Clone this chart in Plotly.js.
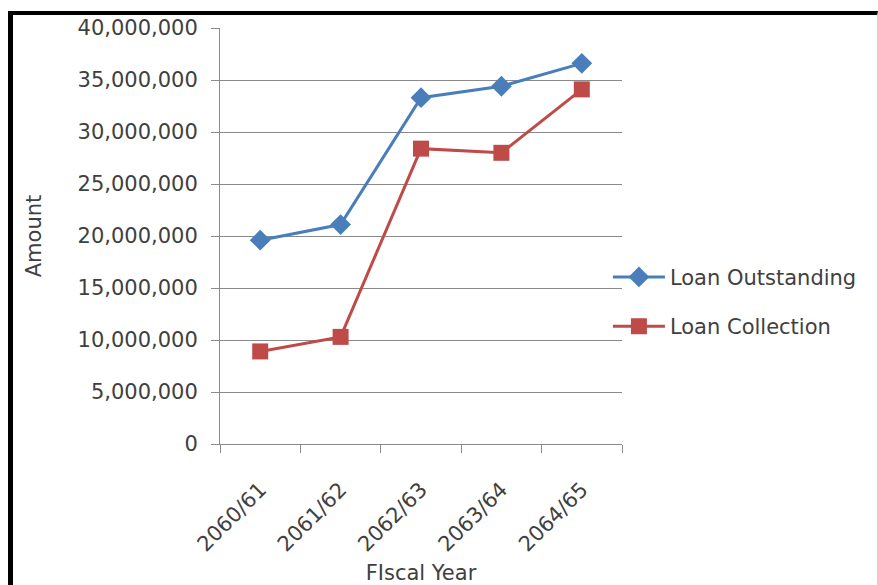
<!DOCTYPE html>
<html>
<head>
<meta charset="utf-8">
<script src="https://cdn.plot.ly/plotly-3.0.1.min.js"></script>
<style>
  html, body { margin: 0; padding: 0; background: #ffffff; overflow: hidden; }
  #chart { width: 878px; height: 585px; }
  /* black frame around the chart area */
  #frame {
    position: absolute; left: 8px; top: 11px; width: 864px; height: 600px;
    border-left: 5px solid #000; border-top: 4px solid #000; border-right: 1px solid #cfcfcf;
    pointer-events: none;
  }
</style>
</head>
<body>
<div id="chart"></div>
<div id="frame"></div>
<script>
// Fiscal years (Nepali calendar)
const fiscalYears = ["2060/61", "2061/62", "2062/63", "2063/64", "2064/65"];

// Amounts per year
const loanOutstanding = [19600000, 21100000, 33300000, 34400000, 36600000];
const loanCollection = [8900000, 10300000, 28400000, 28000000, 34100000];

const yTicks = [0, 5000000, 10000000, 15000000, 20000000, 25000000, 30000000, 35000000, 40000000];

const textColor = "#404040";
const gridColor = "#8a8a8a";
const fontFamily = "DejaVu Sans, sans-serif";
const fontSize = 21;

const traces = [
  {
    name: "Loan Outstanding",
    x: fiscalYears,
    y: loanOutstanding,
    type: "scatter",
    mode: "lines+markers",
    legendgroup: "out",
    line: { color: "#4a7ebb", width: 3 },
    marker: { symbol: "diamond", size: 16, color: "#4a7ebb" }
  },
  {
    name: "Loan Collection",
    x: fiscalYears,
    y: loanCollection,
    type: "scatter",
    mode: "lines+markers",
    legendgroup: "col",
    line: { color: "#be4b48", width: 3 },
    marker: { symbol: "square", size: 16, color: "#be4b48" }
  }
];

const layout = {
  width: 878,
  height: 585,
  margin: { l: 220, r: 256, t: 28, b: 141 },
  paper_bgcolor: "#ffffff",
  plot_bgcolor: "#ffffff",
  font: { family: fontFamily, size: fontSize, color: textColor },
  showlegend: true,
  legend: {
    x: 0.965, xanchor: "left",
    y: 0.45, yanchor: "top",
    itemwidth: 52,
    tracegroupgap: 19,
    traceorder: "grouped",
    font: { family: fontFamily, size: fontSize, color: textColor },
    bgcolor: "rgba(0,0,0,0)"
  },
  xaxis: {
    type: "category",
    range: [-0.5, 4.5],
    showgrid: false,
    showline: true,
    linecolor: gridColor,
    linewidth: 1,
    ticks: "outside",
    tickson: "boundaries",
    ticklen: 8,
    tickcolor: gridColor,
    tickangle: -45,
    ticklabelstandoff: 24,
    tickfont: { family: fontFamily, size: fontSize, color: textColor },
    title: { text: "FIscal Year", font: { family: fontFamily, size: fontSize, color: textColor }, standoff: 10 },
    zeroline: false,
    fixedrange: true
  },
  yaxis: {
    range: [0, 40000000],
    tickvals: yTicks,
    tickformat: ",d",
    showgrid: true,
    gridcolor: gridColor,
    gridwidth: 1,
    showline: true,
    linecolor: gridColor,
    linewidth: 1,
    ticks: "outside",
    ticklen: 8,
    tickcolor: gridColor,
    ticklabelstandoff: 9,
    tickfont: { family: fontFamily, size: fontSize, color: textColor },
    title: { text: "Amount", font: { family: fontFamily, size: fontSize, color: textColor }, standoff: 30 },
    zeroline: false,
    fixedrange: true
  }
};

Plotly.newPlot("chart", traces, layout, { displayModeBar: false, staticPlot: true });
</script>
</body>
</html>
